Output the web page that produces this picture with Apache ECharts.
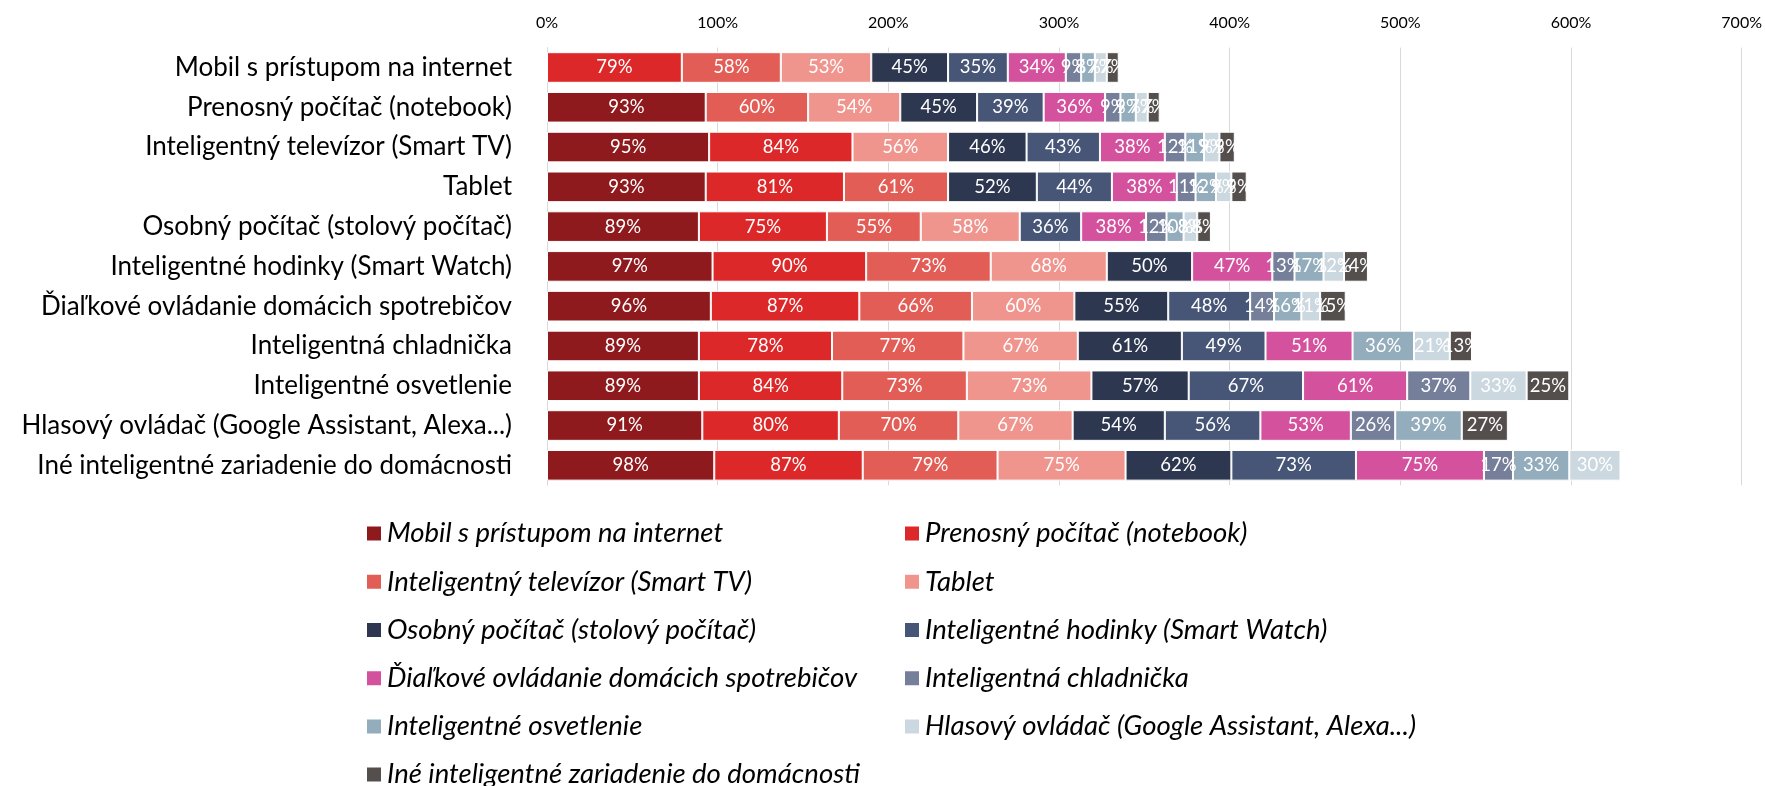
<!DOCTYPE html>
<html>
<head>
<meta charset="utf-8">
<title>Zariadenia</title>
<script src="https://cdn.jsdelivr.net/npm/echarts@6/dist/echarts.min.js"></script>
<style>
  html, body { margin: 0; padding: 0; background: #fff; }
  #chart { width: 1765px; height: 786px; }
</style>
</head>
<body>
<div id="chart"></div>
<script>
// kategórie (riadky zhora nadol) = aj názvy radov
const categories = [
  'Mobil s prístupom na internet',
  'Prenosný počítač (notebook)',
  'Inteligentný televízor (Smart TV)',
  'Tablet',
  'Osobný počítač (stolový počítač)',
  'Inteligentné hodinky (Smart Watch)',
  'Ďiaľkové ovládanie domácich spotrebičov',
  'Inteligentná chladnička',
  'Inteligentné osvetlenie',
  'Hlasový ovládač (Google Assistant, Alexa...)',
  'Iné inteligentné zariadenie do domácnosti'
]

// hodnoty v % pre každý rad (null = chýba)
const mobil     = [null, 93, 95, 93, 89, 97, 96, 89, 89, 91, 98]
const notebook  = [79, null, 84, 81, 75, 90, 87, 78, 84, 80, 87]
const smartTv   = [58, 60, null, 61, 55, 73, 66, 77, 73, 70, 79]
const tablet    = [53, 54, 56, null, 58, 68, 60, 67, 73, 67, 75]
const pc        = [45, 45, 46, 52, null, 50, 55, 61, 57, 54, 62]
const watch     = [35, 39, 43, 44, 36, null, 48, 49, 67, 56, 73]
const remote    = [34, 36, 38, 38, 38, 47, null, 51, 61, 53, 75]
const fridge    = [9, 9, 12, 11, 12, 13, 14, null, 37, 26, 17]
const lights    = [8, 9, 11, 12, 10, 17, 16, 36, null, 39, 33]
const voice     = [7, 7, 9, 9, 8, 12, 11, 21, 33, null, 30]
const other     = [7, 7, 9, 9, 8, 14, 15, 13, 25, 27, null]

const xTicks = [0, 100, 200, 300, 400, 500, 600, 700]

const seriesData = [mobil, notebook, smartTv, tablet, pc, watch, remote, fridge, lights, voice, other]
const colors = ['#8F1A1E', '#DC2828', '#E35D57', '#F0948E', '#2E3750', '#475677',
  '#D4529D', '#767F99', '#93ADBD', '#CBD8E0', '#544F4D']

const font = 'Lato, "Noto Sans", sans-serif'

const chart = echarts.init(document.getElementById('chart'))

const series = categories.map((name, i) => ({
  name: name,
  type: 'bar',
  stack: 'total',
  barCategoryGap: '23%',
  data: seriesData[i],
  itemStyle: { color: colors[i], borderColor: '#fff', borderWidth: 1 },
  label: {
    show: true,
    position: 'inside',
    formatter: '{c}%',
    color: '#fff',
    fontSize: 18.5,
    fontFamily: font
  }
}))

const legendStyle = {
  orient: 'vertical',
  icon: 'rect',
  itemWidth: 16,
  itemHeight: 16,
  itemGap: 18.2,
  height: 330,
  textStyle: { fontSize: 27.5, lineHeight: 30, fontStyle: 'italic', color: '#000', fontFamily: font }
}

const option = {
  animation: false,
  color: colors,
  grid: { left: 547, top: 47.6, width: 1196, height: 437.6 },
  legend: [
    Object.assign({ left: 360, top: 513.6, data: categories.filter((c, i) => i % 2 === 0) }, legendStyle),
    Object.assign({ left: 898, top: 513.6, data: categories.filter((c, i) => i % 2 === 1) }, legendStyle)
  ],
  xAxis: {
    type: 'value',
    position: 'top',
    min: xTicks[0],
    max: xTicks[xTicks.length - 1],
    interval: 100,
    axisLine: { show: false },
    axisTick: { show: false },
    axisLabel: { formatter: '{value}%', fontSize: 16, color: '#000', fontFamily: font, margin: 17 },
    splitLine: { lineStyle: { color: '#D9D9D9', width: 1 } }
  },
  yAxis: {
    type: 'category',
    inverse: true,
    data: categories,
    axisLine: { show: true, lineStyle: { color: '#D9D9D9' } },
    axisTick: { show: false },
    axisLabel: { fontSize: 26, color: '#000', fontFamily: font, margin: 35 }
  },
  series: series
}

chart.setOption(option)
</script>
</body>
</html>
